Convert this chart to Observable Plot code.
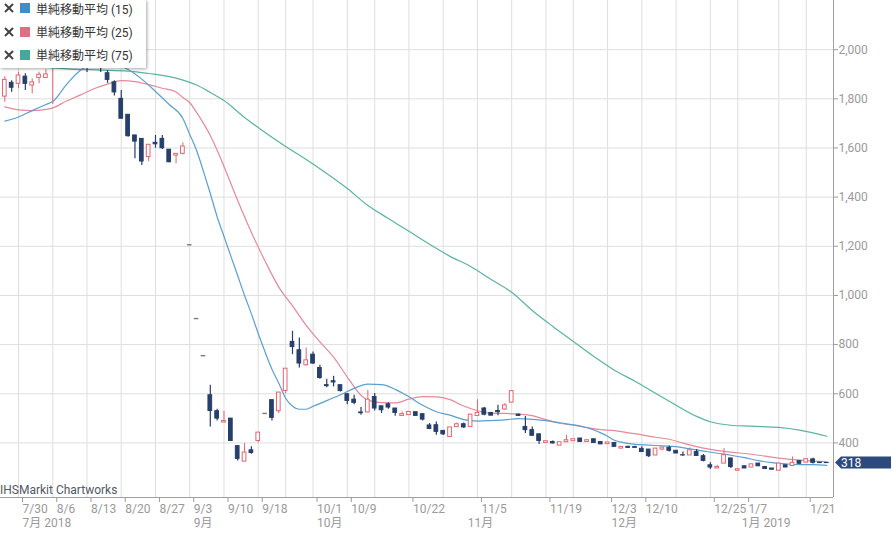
<!DOCTYPE html>
<html><head><meta charset="utf-8">
<script src="https://cdn.jsdelivr.net/npm/d3@7"></script>
<script src="https://cdn.jsdelivr.net/npm/@observablehq/plot@0.6"></script>
<style>
body{margin:0;background:#fff;font-family:Roboto,sans-serif;}
#wrap{position:relative;width:892px;height:536px;overflow:hidden;}
#legend{position:absolute;left:0;top:0;width:146px;height:68px;background:#fff;box-shadow:1px 1px 3px rgba(0,0,0,.35);font-family:Roboto,'Noto Sans CJK JP',sans-serif;font-size:12px;color:#333;}
.row{position:absolute;left:0;height:14px;display:flex;align-items:center;white-space:nowrap;}
.row svg{margin-left:4px;}
.sq{width:10px;height:10px;margin-left:6px;margin-right:6px;}
#wm{position:absolute;left:0;top:483px;font-size:12px;line-height:14px;color:#505866;font-family:Roboto,sans-serif;}
</style></head>
<body><div id="wrap"><div id="chart"></div><div id="wm">IHSMarkit Chartworks</div><div id="legend"></div></div>
<script>
// ---- data ----
const dates = ["7/26","7/27","7/30","7/31","8/1","8/2","8/3","8/6","8/7","8/8","8/9","8/10","8/13","8/14","8/15","8/16","8/17","8/20","8/21","8/22","8/23","8/24","8/27","8/28","8/29","8/30","8/31","9/3","9/4","9/5","9/6","9/7","9/10","9/11","9/12","9/13","9/14","9/18","9/19","9/20","9/21","9/25","9/26","9/27","9/28","10/1","10/2","10/3","10/4","10/5","10/9","10/10","10/11","10/12","10/15","10/16","10/17","10/18","10/19","10/22","10/23","10/24","10/25","10/26","10/29","10/30","10/31","11/1","11/2","11/5","11/6","11/7","11/8","11/9","11/12","11/13","11/14","11/15","11/16","11/19","11/20","11/21","11/22","11/26","11/27","11/28","11/29","11/30","12/3","12/4","12/5","12/6","12/7","12/10","12/11","12/12","12/13","12/14","12/17","12/18","12/19","12/20","12/21","12/25","12/26","12/27","12/28","1/4","1/7","1/8","1/9","1/10","1/11","1/15","1/16","1/17","1/18","1/21","1/22","1/23","1/24"];
const open  = [1809,1865,1861,1890,1854,1885,1885,1950,1985,1960,1990,2010,1985,1960,1975,1904,1867,1800,1735,1651,1637,1563,1621,1637,1593,1569,1576,1206,906,755,594,529,483,499,387,324,370,408,520,574,529,611,811,777,716,759,705,635,651,635,598,576,524,524,587,549,557,540,510,513,525,517,471,472,449,424,464,476,465,510,540,522,530,536,564,515,465,452,435,400,404,389,403,407,418,404,415,404,395,400,377,384,383,376,373,349,373,380,368,350,349,363,346,309,296,316,337,287,305,300,316,302,296,287,309,306,326,320,333,320,319];
const high  = [1890,1874,1908,1902,1881,1908,1918,2000,1995,2000,2030,2020,1995,1990,1985,1915,1874,1834,1735,1651,1637,1613,1651,1651,1593,1576,1621,1206,906,755,635,537,529,499,387,398,384,442,520,574,605,702,854,827,786,770,716,659,671,635,600,594,544,614,601,549,563,540,526,526,525,517,479,485,449,463,481,481,515,576,544,522,553,560,611,518,508,465,435,407,408,403,431,415,418,411,415,404,402,400,384,386,386,384,373,377,381,388,368,363,380,373,353,319,309,377,337,293,305,313,316,302,296,316,309,343,326,334,338,320,319];
const low   = [1786,1827,1841,1834,1820,1861,1885,1777,1950,1955,1975,1970,1907,1945,1907,1863,1811,1719,1644,1556,1529,1544,1599,1594,1540,1536,1572,1206,906,755,465,489,483,408,327,324,354,400,520,489,519,600,759,705,713,719,659,624,628,607,555,555,513,523,530,520,537,509,510,513,510,489,454,431,430,422,464,459,465,510,511,511,511,533,564,508,438,429,394,400,396,389,403,407,404,404,400,394,395,384,377,378,378,363,341,349,368,363,357,346,349,347,323,292,296,316,296,287,296,300,305,294,291,287,300,306,315,320,314,318,318];
const close = [1877,1845,1895,1861,1867,1898,1899,1985,1960,1990,2010,1985,1960,1975,1950,1877,1826,1719,1648,1626,1545,1613,1615,1599,1542,1576,1606,1206,906,755,530,499,489,408,335,361,359,442,520,502,605,702,790,723,736,723,664,631,646,611,571,563,521,576,540,533,544,522,517,526,510,495,457,445,435,463,476,463,515,522,515,511,525,553,611,510,452,429,408,407,398,403,411,415,404,411,400,394,402,384,384,380,380,363,346,377,381,368,357,349,370,347,327,300,302,350,302,293,296,313,305,294,291,316,300,319,315,334,319,318,318];

const sma15K = [0,2,4,6,7,9,11,13,15,18,20,22,24,26,27,28,29,30,31,32,33,34,35,36,37,38,39,40,41,42,43,44,45,47,49,51,53,55,57,59,61,63,65,67,69,71,73,75,77,79,81,83,85,87,88,89,90,92,94,96,98,100,102,104,106,108,110,112,114,116,118,120];
const sma15V = [1709,1726,1752,1777,1789,1858,1915,1943,1943,1919,1880,1830,1777,1720,1655,1590,1505,1415,1320,1240,1160,1080,1000,925,845,770,700,643,582,549,537,537,549,572,596,622,639,637,618,588,553,527,513,495,489,491,494,499,496,491,482,474,462,441,427,411,403,394,391,388,385,376,367,358,350,340,328,320,315,312,312,309];
const sma25K = [0,2,4,6,7,9,11,13,15,17,19,21,23,25,26,27,28,29,30,32,34,36,38,40,42,44,46,48,50,52,53,55,57,59,61,63,65,67,69,71,73,75,77,79,81,83,85,87,89,91,93,95,97,99,101,103,105,107,109,111,113,115,117,120];
const sma25V = [1767,1755,1752,1757,1763,1791,1815,1841,1860,1874,1870,1858,1843,1828,1805,1784,1745,1700,1651,1525,1386,1256,1140,1034,958,878,811,749,668,594,574,564,563,578,588,587,576,550,531,521,520,517,511,495,480,472,462,454,450,441,433,423,415,399,385,374,366,360,354,346,338,332,328,323];
const sma75K = [0,5,9,14,18,21,25,28,30,32,35,38,41,44,47,50,53,56,59,62,65,68,71,74,77,80,83,86,89,92,95,98,101,103,106,109,113,116,120];
const sma75V = [1940,1931,1922,1917,1913,1903,1884,1856,1826,1793,1724,1663,1606,1553,1496,1435,1366,1313,1261,1208,1159,1118,1065,1013,939,874,813,752,696,651,602,553,508,486,472,468,463,452,427];

const yTicks = [400,600,800,1000,1200,1400,1600,1800,2000];
const gridDates = ["7/30","8/6","8/13","8/20","8/27","9/3","9/10","9/18","9/25","10/1","10/9","10/15","10/22","10/29","11/5","11/12","11/19","11/26","12/3","12/10","12/17","12/25","1/4","1/15","1/21"];
const labelDates = ["7/30","8/6","8/13","8/20","8/27","9/3","9/10","9/18","10/1","10/9","10/22","11/5","11/19","12/3","12/10","12/25","1/7","1/21"];
const monthDates = ["7/30","9/3","10/1","11/1","12/3","1/4"];
const monthLabels = ["7月 2018","9月","10月","11月","12月","1月 2019"];
const seriesNames = ["単純移動平均 (15)","単純移動平均 (25)","単純移動平均 (75)"];
const lastPrice = 318;

// ---- styles ----
const NAVY = "#263f6b", RED = "#e3646f", GRAY = "#7a7a7a";
const C15 = "#5a9fd2", C25 = "#e6899a", C75 = "#5bb3a3";
const legendColors = ["#3f8fc6","#dc6f80","#45a898"];
const xDomain = [-0.628, 120.98], yDomain = [178, 2200];

const candles = dates.map((d,k)=>({k, o:open[k], h:high[k], l:low[k], c:close[k]}));
const isFlat = d=>d.o===d.c && d.h===d.l;
const flat = candles.filter(isFlat);
const up = candles.filter(d=>!isFlat(d) && d.c>d.o);
const down = candles.filter(d=>!isFlat(d) && d.c<=d.o);
const toPts = (K,V)=>K.map((k,j)=>({k, v:V[j]}));
const idx = d=>dates.indexOf(d);
const hw = 0.27;

const chart = Plot.plot({
  width: 892, height: 536, marginTop: 0, marginRight: 59, marginBottom: 39, marginLeft: 0,
  x: {domain: xDomain}, y: {domain: yDomain},
  style: {fontFamily: "Roboto, sans-serif", fontSize: "12px", background: "transparent", overflow: "visible"},
  marks: [
    Plot.ruleY(yTicks, {stroke: "#dedede"}),
    Plot.ruleX(gridDates.map(idx), {stroke: "#dedede"}),
    Plot.line(toPts(sma75K, sma75V), {x: "k", y: "v", stroke: C75, strokeWidth: 1.2, curve: "monotone-x"}),
    Plot.line(toPts(sma25K, sma25V), {x: "k", y: "v", stroke: C25, strokeWidth: 1.2, curve: "monotone-x"}),
    Plot.line(toPts(sma15K, sma15V), {x: "k", y: "v", stroke: C15, strokeWidth: 1.2, curve: "monotone-x"}),
    Plot.ruleX(down, {x: "k", y1: "l", y2: "h", stroke: NAVY, strokeWidth: 1.2}),
    Plot.ruleX(up, {x: "k", y1: "l", y2: "h", stroke: RED, strokeWidth: 1}),
    Plot.rect(down, {x1: d=>d.k-hw, x2: d=>d.k+hw, y1: "o", y2: "c", fill: NAVY, stroke: NAVY, strokeWidth: 1}),
    Plot.rect(up, {x1: d=>d.k-hw, x2: d=>d.k+hw, y1: "o", y2: "c", fill: "#fff", stroke: RED, strokeWidth: 1}),
    Plot.ruleY(flat, {y: "c", x1: d=>d.k-0.33, x2: d=>d.k+0.33, stroke: GRAY, strokeWidth: 1.4}),
    Plot.ruleY([yDomain[0]], {stroke: "#a0a0a0"}),
    Plot.ruleX([xDomain[1]], {stroke: "#a0a0a0"}),
    Plot.axisY(yTicks, {anchor: "right", tickFormat: d3.format(","), tickSize: 4, tickPadding: 1, color: "#9a9a9a", fontSize: 12, label: null}),
    Plot.axisX(labelDates.map(idx), {anchor: "bottom", tickFormat: k=>dates[k], tickSize: 5, tickPadding: 2, textAnchor: "start", dx: 4, color: "#9a9a9a", fontSize: 12, label: null}),
    Plot.axisX(monthDates.map(idx), {anchor: "bottom", tickFormat: k=>monthLabels[monthDates.indexOf(dates[k])], tickSize: 0, tickPadding: 21, textAnchor: "start", dx: 4, color: "#9a9a9a", fontSize: 12, label: null, fontFamily: "Roboto, 'Noto Sans CJK JP', sans-serif"})
  ]
});
document.getElementById("chart").appendChild(chart);

// last-price tag
const sy = chart.scale("y").apply(lastPrice);
const sx = chart.scale("x").apply(xDomain[1]);
const svg = d3.select(chart);
svg.append("path")
  .attr("d", `M${sx+2},${sy} L${sx+8},${sy-6} L891,${sy-6} L891,${sy+6} L${sx+8},${sy+6} Z`)
  .attr("fill", "#2c4a7c");
svg.append("text").attr("x", sx+8).attr("y", sy).attr("dy", "0.35em")
  .attr("text-anchor", "start")
  .attr("fill", "#fff").attr("font-size", 12).attr("font-family", "Roboto, sans-serif").text(lastPrice);

// legend
const leg = document.getElementById("legend");
const rowY = [1, 24.5, 47.5];
seriesNames.forEach((name, j) => {
  const r = document.createElement("div");
  r.className = "row"; r.style.top = rowY[j] + "px";
  r.innerHTML = `<svg width="10" height="10"><path d="M1,1L9,9M9,1L1,9" stroke="#444" stroke-width="2"/></svg><div class="sq" style="background:${legendColors[j]}"></div><span>${name}</span>`;
  leg.appendChild(r);
});
</script></body></html>
